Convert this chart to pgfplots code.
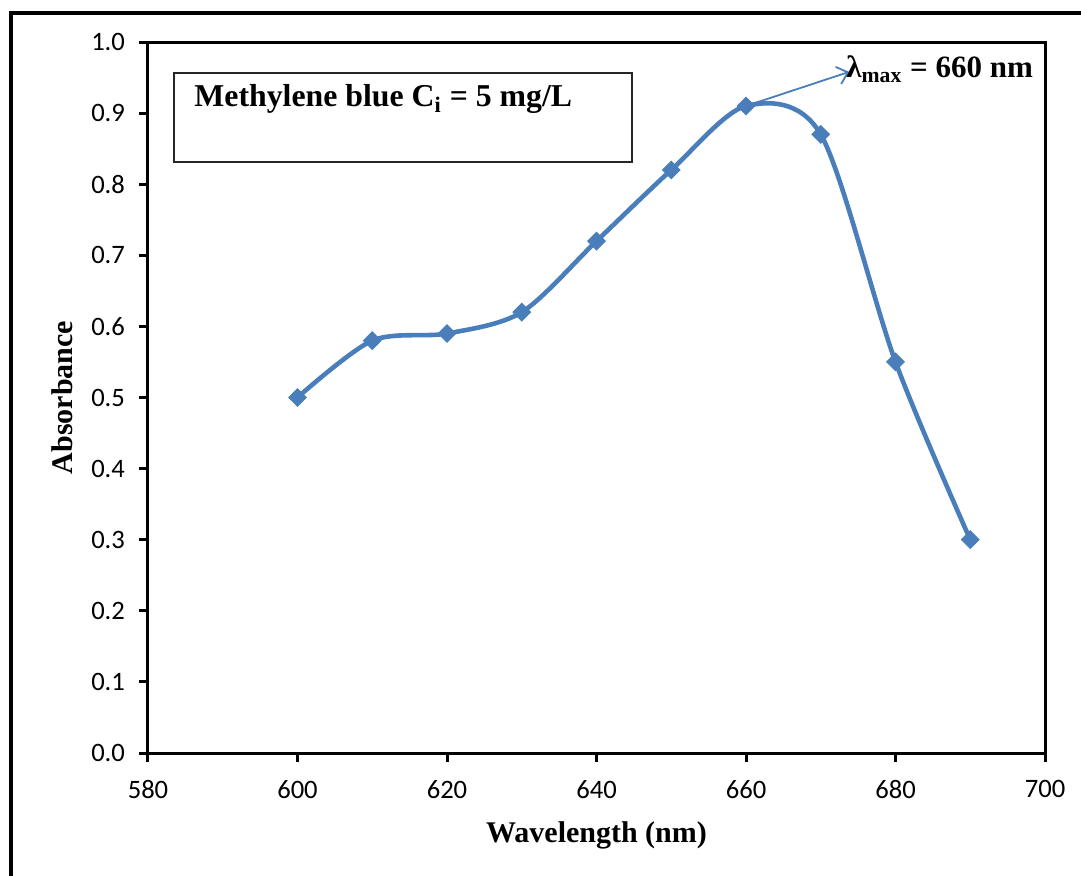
\documentclass[border=0pt]{standalone}
\usepackage{pgfplots}
\pgfplotsset{compat=1.18}
\usepackage{fontspec}
\setmainfont{Liberation Serif}
\newfontfamily\carlito{Carlito}
\usetikzlibrary{arrows.meta}
\definecolor{exblue}{RGB}{74,126,187}
\begin{document}
\begin{tikzpicture}
\useasboundingbox (-74pt,-61pt) rectangle (466.5pt,376.5pt);
\draw[line width=2pt] (-68.5pt,-80pt) rectangle (490pt,369.75pt);
\begin{axis}[
  at={(0,0)}, anchor=south west,
  scale only axis, width=448.5pt, height=355.5pt,
  xmin=580, xmax=700, ymin=0, ymax=1,
  xtick={580,600,...,700},
  ytick={0,0.1,...,1.0},
  xtick pos=left, ytick pos=left,
  tick align=outside, major tick length=4.5pt,
  axis line style={line width=1.5pt},
  every tick/.style={line width=1.5pt, black},
  tick label style={font=\carlito\fontsize{13.3}{13}\selectfont},
  yticklabel style={xshift=-3.5pt, /pgf/number format/.cd, fixed, fixed zerofill, precision=1, assume math mode=true},
  xticklabel style={yshift=-5.5pt, /pgf/number format/.cd, assume math mode=true, 1000 sep={}},
  xlabel={\bfseries Wavelength (nm)},
  ylabel={\bfseries Absorbance},
  every axis x label/.style={at={(axis description cs:0.5,-0.1252)}, anchor=base, font=\fontsize{15}{15}\selectfont},
  every axis y label/.style={at={(axis description cs:-0.0959,0.5)}, rotate=90, anchor=center, font=\fontsize{15}{15}\selectfont},
  clip=false,
]
\addplot[color=exblue, line width=2.3pt, smooth, mark=square*, mark size=3.1pt,
  mark options={rotate=45, fill=exblue, draw=exblue, line width=0.5pt}]
  coordinates {(600,0.50) (610,0.58) (620,0.59) (630,0.62) (640,0.72) (650,0.82) (660,0.91) (670,0.87) (680,0.55) (690,0.30)};
\draw[exblue, line width=0.9pt, -{Straight Barb[length=5pt,width=9pt]}] (axis cs:660,0.91) -- (axis cs:673.8,0.958);
\end{axis}
\draw[line width=0.8pt, black!85] (13pt,295.5pt) rectangle (242pt,340pt);
\node[anchor=base west, inner sep=0pt, font=\fontsize{15.9}{15}\selectfont\bfseries] at (23pt,323pt) {Methylene blue C\textsubscript{i} = 5 mg/L};
\node[anchor=base west, inner sep=0pt, font=\fontsize{15.5}{15}\selectfont\bfseries] at (349pt,337.5pt) {λ\textsubscript{max} = 660 nm};
\end{tikzpicture}
\end{document}
